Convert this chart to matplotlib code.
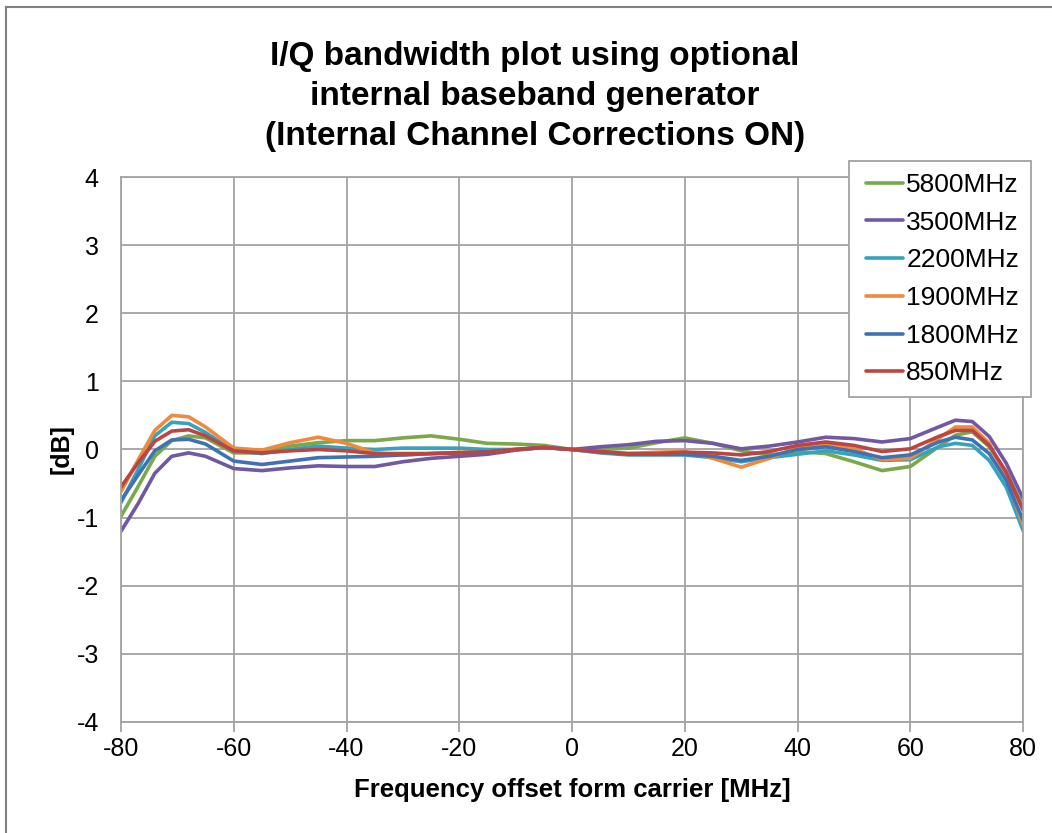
import matplotlib
matplotlib.use("Agg")
import matplotlib.pyplot as plt
from matplotlib.lines import Line2D
from matplotlib.legend_handler import HandlerLine2D

plt.rcParams['font.family'] = ['Liberation Sans', 'DejaVu Sans']
plt.rcParams['axes.unicode_minus'] = False

# frequency offset [MHz], shared by all series
freq = [-80, -77, -74, -71, -68, -65, -60, -55, -50, -45, -40, -35, -30, -25, -20,
        -15, -10, -5, 0, 5, 10, 15, 20, 25, 30, 35, 40, 45, 50, 55, 60, 65, 68, 71,
        74, 77, 80]

# response [dB]
db_5800 = [-0.98, -0.55, -0.10, 0.13, 0.20, 0.17, -0.05, -0.05, 0.05, 0.10, 0.13, 0.13,
           0.17, 0.20, 0.15, 0.09, 0.08, 0.06, 0.00, 0.00, 0.02, 0.10, 0.17, 0.09, -0.02,
           -0.08, -0.03, -0.06, -0.18, -0.31, -0.25, 0.04, 0.21, 0.26, 0.04, -0.33, -0.84]
db_3500 = [-1.20, -0.80, -0.35, -0.10, -0.05, -0.10, -0.28, -0.31, -0.27, -0.24, -0.25,
           -0.25, -0.18, -0.13, -0.10, -0.07, -0.01, 0.03, 0.00, 0.04, 0.07, 0.12, 0.13,
           0.09, 0.01, 0.05, 0.11, 0.18, 0.16, 0.11, 0.16, 0.33, 0.43, 0.41, 0.19, -0.20,
           -0.72]
db_2200 = [-0.78, -0.30, 0.20, 0.40, 0.38, 0.25, -0.02, -0.06, 0.00, 0.05, 0.02, 0.00,
           0.02, 0.02, 0.02, 0.00, 0.00, 0.03, 0.00, -0.05, -0.08, -0.08, -0.08, -0.12,
           -0.18, -0.12, -0.07, -0.02, -0.08, -0.16, -0.15, 0.04, 0.09, 0.06, -0.16, -0.55,
           -1.19]
db_1900 = [-0.62, -0.16, 0.28, 0.50, 0.48, 0.33, 0.02, -0.01, 0.10, 0.18, 0.09, -0.05,
           -0.08, -0.06, -0.04, -0.03, 0.00, 0.03, 0.00, -0.04, -0.06, -0.04, -0.03, -0.13,
           -0.26, -0.13, 0.03, 0.08, 0.01, -0.15, -0.13, 0.16, 0.33, 0.33, 0.09, -0.40,
           -1.11]
db_1800 = [-0.75, -0.38, -0.02, 0.14, 0.15, 0.08, -0.17, -0.22, -0.17, -0.12, -0.11,
           -0.10, -0.08, -0.06, -0.05, -0.03, 0.00, 0.03, 0.00, -0.04, -0.07, -0.07, -0.07,
           -0.10, -0.16, -0.10, 0.00, 0.04, -0.03, -0.12, -0.08, 0.11, 0.18, 0.14, -0.06,
           -0.45, -1.04]
db_850 = [-0.55, -0.20, 0.12, 0.27, 0.29, 0.20, -0.02, -0.05, -0.02, 0.00, -0.02, -0.06,
          -0.06, -0.06, -0.05, -0.04, 0.00, 0.03, 0.00, -0.03, -0.06, -0.06, -0.04, -0.05,
          -0.08, -0.03, 0.06, 0.11, 0.06, -0.03, 0.01, 0.19, 0.28, 0.28, 0.06, -0.33, -0.89]

labels = ['5800MHz', '3500MHz', '2200MHz', '1900MHz', '1800MHz', '850MHz']
series = [db_5800, db_3500, db_2200, db_1900, db_1800, db_850]
colors = ['#7aa84a', '#7158a2', '#35a3bd', '#ef8a3c', '#3f72b4', '#bc4441']

x_ticks = [-80, -60, -40, -20, 0, 20, 40, 60, 80]
y_ticks = [-4, -3, -2, -1, 0, 1, 2, 3, 4]

fig = plt.figure(figsize=(10.52, 8.33), dpi=100)
ax = fig.add_axes([0.115, 0.1333, 0.8575, 0.6542])

for vals, lab, col in zip(series, labels, colors):
    ax.plot(freq, vals, color=col, lw=2.6, label=lab, solid_capstyle='round',
            solid_joinstyle='round')

ax.set_xlim(-80, 80)
ax.set_ylim(-4, 4)
ax.set_xticks(x_ticks)
ax.set_yticks(y_ticks)
ax.grid(True, color='#a3a3a3', lw=1.3)
ax.set_axisbelow(True)
for s in ax.spines.values():
    s.set_color('#a3a3a3')
    s.set_linewidth(1.3)
ax.tick_params(axis='x', length=7, width=1.3, color='#a3a3a3', labelsize=18, pad=4)
ax.tick_params(axis='y', length=0, labelsize=18, pad=16)

ax.set_xlabel('Frequency offset form carrier [MHz]', fontsize=18.5, fontweight='bold',
              labelpad=12)
ax.set_ylabel('[dB]', fontsize=18, fontweight='bold', labelpad=2)

fig.text(0.5086, 0.951, 'I/Q bandwidth plot using optional\ninternal baseband generator\n'
         '(Internal Channel Corrections ON)', ha='center', va='top', fontsize=24,
         fontweight='bold', linespacing=1.37)

# legend sits partly outside the plot area, as in the original
leg = ax.legend(loc='upper left', bbox_to_anchor=(849 / 1052, 1 - 161 / 833),
                bbox_transform=fig.transFigure, fontsize=19, frameon=True, fancybox=False,
                handlelength=1.6, handletextpad=0.12, labelspacing=0.52, borderpad=0.45,
                borderaxespad=0, handler_map={Line2D: HandlerLine2D(xpad=0.19)})
leg.get_frame().set_edgecolor('#a3a3a3')
leg.get_frame().set_linewidth(1.3)
leg.get_frame().set_alpha(1)

# outer border of the picture (left and top edge)
fig.add_artist(Line2D([6 / 1052, 6 / 1052], [0, 1 - 7 / 833], transform=fig.transFigure,
                      color='#808080', lw=1.5))
fig.add_artist(Line2D([6 / 1052, 1], [1 - 7 / 833, 1 - 7 / 833], transform=fig.transFigure,
                      color='#808080', lw=1.5))

fig.savefig('out.png', dpi=100)
